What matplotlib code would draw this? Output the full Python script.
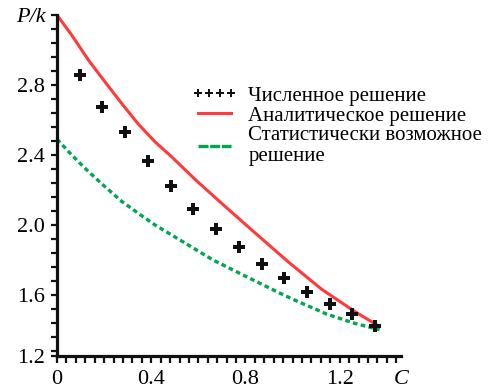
import glob, os
import matplotlib
matplotlib.use("Agg")
import matplotlib.pyplot as plt
from matplotlib import font_manager
from matplotlib.ticker import MultipleLocator, FixedLocator
from matplotlib.lines import Line2D

# Data
num_x = [0.096, 0.193, 0.289, 0.386, 0.482, 0.579, 0.675, 0.771, 0.868, 0.964, 1.061, 1.157, 1.254, 1.35]
num_y = [2.857, 2.674, 2.531, 2.366, 2.223, 2.091, 1.977, 1.874, 1.777, 1.697, 1.617, 1.549, 1.491, 1.423]

ana_x = [0.0, 0.062, 0.133, 0.203, 0.274, 0.344, 0.415, 0.486, 0.59, 0.698, 0.839, 0.980, 1.122, 1.263, 1.361]
ana_y = [3.20, 3.086, 2.943, 2.819, 2.695, 2.578, 2.476, 2.390, 2.255, 2.124, 1.956, 1.790, 1.633, 1.505, 1.425]

stat_x = [0.0, 0.062, 0.133, 0.203, 0.274, 0.345, 0.415, 0.542, 0.661, 0.805, 0.945, 1.0, 1.144, 1.263, 1.369]
stat_y = [2.490, 2.40, 2.305, 2.219, 2.135, 2.066, 2.0, 1.897, 1.80, 1.703, 1.610, 1.575, 1.490, 1.437, 1.40]

xticks = [0, 0.4, 0.8, 1.2]
xtick_labels = ["0", "0.4", "0.8", "1.2"]
yticks = [1.25, 1.6, 2.0, 2.4, 2.8]
ytick_labels = ["1.2", "1.6", "2.0", "2.4", "2.8"]

labels = ["Численное решение", "Аналитическое решение", "Статистически возможное\nрешение"]

# register any serif font files present on the system
for d in ['/usr/share/fonts', '/usr/local/share/fonts', os.path.expanduser('~/.fonts'),
          os.path.expanduser('~/.local/share/fonts')]:
    for p in glob.glob(os.path.join(d, '**', '*.[ot]tf'), recursive=True):
        b = os.path.basename(p).lower()
        if ('serif' in b and 'sans' not in b) or 'times' in b or 'tinos' in b:
            try:
                font_manager.fontManager.addfont(p)
            except Exception:
                pass

available = {f.name for f in font_manager.fontManager.ttflist}
serif = None
for cand in ['Liberation Serif', 'Times New Roman', 'Tinos', 'Nimbus Roman', 'FreeSerif',
             'Noto Serif', 'DejaVu Serif']:
    if cand in available:
        serif = cand
        break
fam = [serif, 'DejaVu Sans'] if serif else ['DejaVu Sans']
plt.rcParams['font.family'] = fam

W, H = 493, 391
fig = plt.figure(figsize=(W / 100, H / 100), dpi=100)
ax = fig.add_axes([57 / W, 1 - 356 / H, (401 - 57) / W, (356 - 15) / H])

red = "#ff3a3a"
green = "#00a651"

ax.plot(ana_x, ana_y, color=red, lw=2.2, solid_capstyle='butt', solid_joinstyle='round')
ax.plot(stat_x, stat_y, color=green, lw=2.4, linestyle=(0, (1.4, 1.0)))
ax.plot(num_x, num_y, linestyle='none', marker='P', ms=8, color='#111111', mew=0)

ax.set_xlim(0, 1.46)
ax.set_ylim(1.25, 3.2)

for s in ['top', 'right']:
    ax.spines[s].set_visible(False)
for s in ['left', 'bottom']:
    ax.spines[s].set_linewidth(2.3)
    ax.spines[s].set_color('#111111')

ax.xaxis.set_major_locator(FixedLocator(xticks))
ax.set_xticklabels(xtick_labels)
ax.yaxis.set_major_locator(FixedLocator(yticks))
ax.set_yticklabels(ytick_labels)
ax.xaxis.set_minor_locator(MultipleLocator(0.04))
ax.yaxis.set_minor_locator(MultipleLocator(0.08))

ax.tick_params(axis='both', which='both', direction='out', width=1.6, color='#111111')
ax.tick_params(axis='x', which='both', length=5, pad=5, labelsize=16)
ax.tick_params(axis='y', which='both', length=4, pad=5, labelsize=16)

fig.text(401 / W, 1 - 380 / H, "C", style='italic', fontsize=16, ha='center', va='center')
fig.text(31 / W, 1 - 18 / H, "P/k", style='italic', fontsize=16, ha='center', va='center')

handles = [
    Line2D([], [], linestyle='none', marker='P', ms=6, color='#111111', mew=0),
    Line2D([], [], color=red, lw=2.2),
    Line2D([], [], color=green, lw=2.4, linestyle=(0, (3, 0.5))),
]
leg = fig.legend(handles, labels, loc='upper left', bbox_to_anchor=(192 / W, 1 - 86 / H),
                 frameon=False, fontsize=15, numpoints=4, handlelength=2.15,
                 handletextpad=0.55, borderpad=0, borderaxespad=0, labelspacing=0.03)
for t in leg.get_texts():
    t.set_linespacing(1.1)

fig.savefig("out.png", dpi=100)
